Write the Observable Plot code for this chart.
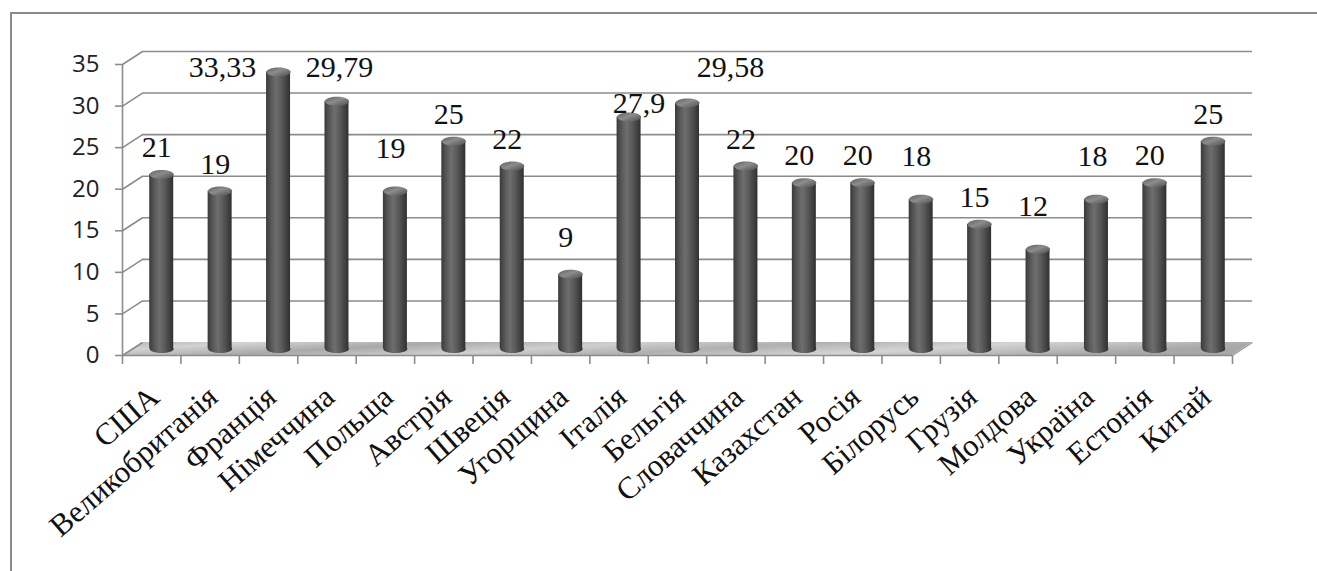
<!DOCTYPE html>
<html>
<head>
<meta charset="utf-8">
<script src="https://cdn.jsdelivr.net/npm/d3@7"></script>
<script src="https://cdn.jsdelivr.net/npm/@observablehq/plot@0.6"></script>
<style>
  html, body { margin: 0; padding: 0; background: #fff; }
  #wrap { position: relative; width: 1317px; height: 571px; overflow: hidden; }
  #frame { position: absolute; left: 10px; top: 12px; width: 1400px; height: 700px;
           border-left: 2px solid #8a8a8a; border-top: 2px solid #8a8a8a; }
  #chart { position: absolute; left: 0; top: 0; }
</style>
</head>
<body>
<!-- shared gradients for the cylinders and the floor -->
<svg width="0" height="0" style="position:absolute">
  <defs>
    <linearGradient id="cyl" x1="0" x2="1" y1="0" y2="0">
      <stop offset="0" stop-color="#3a3a3a"/>
      <stop offset="0.22" stop-color="#595959"/>
      <stop offset="0.42" stop-color="#6e6e6e"/>
      <stop offset="0.62" stop-color="#5c5c5c"/>
      <stop offset="0.85" stop-color="#424242"/>
      <stop offset="1" stop-color="#303030"/>
    </linearGradient>
    <linearGradient id="cap" x1="0" x2="1" y1="0" y2="1">
      <stop offset="0" stop-color="#606060"/>
      <stop offset="0.45" stop-color="#8c8c8c"/>
      <stop offset="1" stop-color="#4c4c4c"/>
    </linearGradient>
    <linearGradient id="floor" x1="0" x2="1" y1="0" y2="0.2">
      <stop offset="0" stop-color="#b8b8b8"/>
      <stop offset="0.12" stop-color="#d2d2d2"/>
      <stop offset="0.28" stop-color="#a9a9a9"/>
      <stop offset="0.45" stop-color="#cfcfcf"/>
      <stop offset="0.6" stop-color="#b0b0b0"/>
      <stop offset="0.78" stop-color="#d4d4d4"/>
      <stop offset="1" stop-color="#a8a8a8"/>
    </linearGradient>
  </defs>
</svg>
<div id="wrap">
  <div id="frame"></div>
  <div id="chart"></div>
</div>
<script>
// Countries shown along the horizontal axis
const countries = ["США", "Великобританія", "Франція", "Німеччина", "Польща", "Австрія",
  "Швеція", "Угорщина", "Італія", "Бельгія", "Словаччина", "Казахстан", "Росія",
  "Білорусь", "Грузія", "Молдова", "Україна", "Естонія", "Китай"];

// Value for each country
const values = [21, 19, 33.33, 29.79, 19, 25, 22, 9, 27.9, 29.58, 22, 20, 20, 18, 15, 12, 18, 20, 25];

// Vertical axis ticks
const yTicks = [0, 5, 10, 15, 20, 25, 30, 35];

const rows = countries.map((name, i) => ({i, name, value: values[i]}));
const boundaries = d3.range(countries.length + 1);

// Plot geometry
const W = 1317, H = 571;
const mL = 122, mR = 85, mT = 64, mB = 216;
const n = countries.length;
const kx = (W - mL - mR) / n;          // px per category
const ky = (H - mT - mB) / 35;         // px per unit
// depth of the pseudo-3D box, in px, and in data units
const depthPx = [20, -13];
const depthX = depthPx[0] / kx, depthY = -depthPx[1] / ky;

// ellipse symbol for cylinder ends
const ellipse = (rx, ry) => ({
  draw(ctx) {
    const k = 0.5522847498;
    ctx.moveTo(rx, 0);
    ctx.bezierCurveTo(rx, ry * k, rx * k, ry, 0, ry);
    ctx.bezierCurveTo(-rx * k, ry, -rx, ry * k, -rx, 0);
    ctx.bezierCurveTo(-rx, -ry * k, -rx * k, -ry, 0, -ry);
    ctx.bezierCurveTo(rx * k, -ry, rx, -ry * k, rx, 0);
    ctx.closePath();
  }
});

const barW = 24;
const inset = (kx - barW) / 2;
const midDx = depthPx[0] / 2, midDy = depthPx[1] / 2;

// data label placement: default offset plus a few hand-placed labels
const labelBase = [5, -33.5];
const labelNudge = {
  "Франція": [-46, -11],
  "Німеччина": [12.5, -40],
  "Польща": [5, -49],
  "Угорщина": [5, -43],
  "Італія": [20, -20],
  "Бельгія": [53, -42],
  "Білорусь": [5, -49],
  "Молдова": [5, -49],
  "Україна": [6, -49]
};
const lab = d => labelNudge[d.name] || labelBase;
const fmt = v => String(v).replace(".", ",");

const gridColor = "#8c8c8c";
const serif = "Liberation Serif";

const chart = Plot.plot({
  width: W,
  height: H,
  marginLeft: mL,
  marginRight: mR,
  marginTop: mT,
  marginBottom: mB,
  x: {domain: [0, n]},
  y: {domain: [0, 35]},
  style: {background: "transparent", overflow: "visible"},
  marks: [
    // floor
    Plot.areaX([{y: 0, x1: 0, x2: n}, {y: depthY, x1: depthX, x2: n + depthX}],
      {y: "y", x1: "x1", x2: "x2", fill: "url(#floor)", curve: "linear"}),
    // back-wall gridlines
    Plot.ruleY(yTicks.filter(t => t > 0), {y: d => d, x1: depthX, x2: n + depthX, dy: depthPx[1],
      stroke: gridColor, strokeWidth: 1.6}),
    // side connectors from the front axis to the back wall
    Plot.link(yTicks, {x1: 0, y1: d => d, x2: depthX, y2: d => d + depthY,
      stroke: gridColor, strokeWidth: 1.6}),
    // floor right edge
    Plot.link([0], {x1: n, y1: 0, x2: n + depthX, y2: depthY, stroke: "#9a9a9a", strokeWidth: 1.2}),
    // front axes
    Plot.ruleX([0], {y1: 0, y2: 35, stroke: gridColor, strokeWidth: 1.6}),
    Plot.ruleY([0], {x1: 0, x2: n, stroke: gridColor, strokeWidth: 1.6}),
    Plot.axisY({ticks: yTicks, tickSize: 7, tickPadding: 16, stroke: gridColor, strokeWidth: 1.6,
      fontSize: 24, fontFamily: "Open Sans", color: "#222", label: null}),
    Plot.axisX({ticks: boundaries, tickSize: 9, tickFormat: () => "", stroke: gridColor,
      strokeWidth: 1.6, label: null}),
    // cylinders: base cap, body, top cap
    Plot.dot(rows, {x: d => d.i + 0.5, y: 0, dx: midDx, dy: midDy, r: 12,
      symbol: ellipse(barW / 2, 4), fill: "url(#cyl)", stroke: "none"}),
    Plot.rectY(rows, {x1: "i", x2: d => d.i + 1, y1: 0, y2: "value", dx: midDx, dy: midDy,
      insetLeft: inset, insetRight: inset, fill: "url(#cyl)"}),
    Plot.dot(rows, {x: d => d.i + 0.5, y: "value", dx: midDx, dy: midDy, r: 12,
      symbol: ellipse(barW / 2, 4.5), fill: "url(#cap)", stroke: "none"}),
    // value labels
    ...rows.map(d => Plot.text([d], {x: d => d.i + 0.5, y: "value", text: d => fmt(d.value),
      dx: lab(d)[0], dy: lab(d)[1], fontSize: 30, fontFamily: serif, fill: "#111"})),
    // category labels
    Plot.text(rows, {x: d => d.i + 0.5, y: 0, text: "name", rotate: -41, textAnchor: "end",
      lineAnchor: "middle", dx: 3, dy: 37, fontSize: 31, fontFamily: serif, fill: "#111"})
  ]
});

document.getElementById("chart").appendChild(chart);
</script>
</body>
</html>
